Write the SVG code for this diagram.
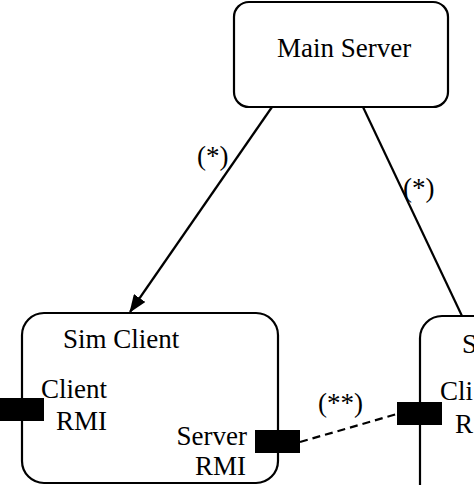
<svg xmlns="http://www.w3.org/2000/svg" width="474" height="485" viewBox="0 0 474 485">
<style>
.box{fill:#fff;stroke:#000;stroke-width:2.2}
.port{fill:#000}
.t{font-family:"Liberation Serif","Times New Roman",serif;font-size:27px;fill:#000}
.line{stroke:#000;stroke-width:2.2;fill:none}
</style>
<defs>
<marker id="arrow" markerWidth="18" markerHeight="14" refX="17" refY="7" orient="auto" markerUnits="userSpaceOnUse">
<path d="M0,0 L18,7 L0,14 Z" fill="#000"/>
</marker>
</defs>
<rect width="474" height="485" fill="#fff"/>
<g id="main-server">
<rect class="box" x="234" y="2" width="214" height="105" rx="15"/>
<text class="t" x="277" y="57">Main Server</text>
</g>
<g id="sim-client-left">
<rect class="box" x="22" y="313" width="256" height="170" rx="22"/>
<text class="t" x="63" y="348">Sim Client</text>
<rect class="port" x="-2" y="398" width="46" height="23"/>
<text class="t" x="107" y="398" text-anchor="end">Client</text>
<text class="t" x="107" y="430" text-anchor="end">RMI</text>
<rect class="port" x="255" y="430" width="45" height="23"/>
<text class="t" x="247" y="445" text-anchor="end">Server</text>
<text class="t" x="246" y="475" text-anchor="end">RMI</text>
</g>
<g id="sim-client-right">
<rect class="box" x="420" y="316" width="200" height="200" rx="22"/>
<text class="t" x="462" y="353">S</text>
<rect class="port" x="397" y="402" width="45" height="23"/>
<text class="t" x="440" y="400">Cli</text>
<text class="t" x="455" y="433">R</text>
</g>
<g id="connectors">
<line class="line" x1="272" y1="107" x2="130" y2="312" marker-end="url(#arrow)"/>
<line class="line" x1="363" y1="107" x2="462" y2="316"/>
<line class="line" x1="300" y1="442" x2="397" y2="414" stroke-dasharray="8,5"/>
<text class="t" x="197" y="165">(*)</text>
<text class="t" x="403" y="197">(*)</text>
<text class="t" x="318" y="412">(**)</text>
</g>
</svg>
